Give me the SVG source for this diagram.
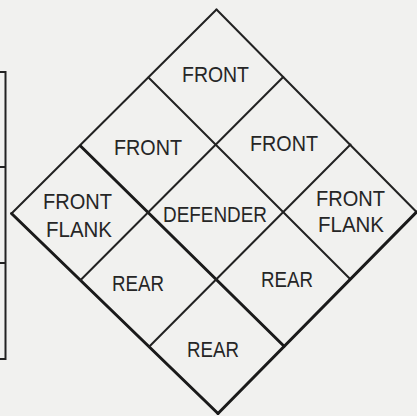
<svg xmlns="http://www.w3.org/2000/svg" width="417" height="416" viewBox="0 0 417 416">
<style>
.bg{fill:#f1f1ef}
.thin{stroke:#222;stroke-width:2;fill:none;stroke-linecap:round}
.thick{stroke:#1a1a1a;stroke-width:3;fill:none;stroke-linecap:round}
.lbl{font-family:"Liberation Sans","DejaVu Sans",Arial,sans-serif;font-size:21.5px;fill:#262626;text-anchor:middle}
</style>
<rect class="bg" x="0" y="0" width="417" height="416"/>
<g id="side-table">
<path class="thin" d="M0 72 H5.5 V359 H0 M0 167 H5.5 M0 263 H5.5"/>
</g>
<g id="connectors">
<line class="thin" x1="216.5" y1="9.5" x2="11.5" y2="213.5"/>
<line class="thin" x1="216.5" y1="9.5" x2="416.5" y2="212"/>
<line class="thin" x1="148.5" y1="77.5" x2="350.4" y2="279.2"/>
<line class="thick" x1="80.5" y1="146" x2="284.1" y2="346.3"/>
<line class="thick" x1="11.5" y1="213.5" x2="218" y2="413.5"/>
<line class="thin" x1="283.2" y1="77" x2="80.4" y2="280.2"/>
<line class="thin" x1="350.5" y1="144.5" x2="149.1" y2="346.8"/>
<line class="thick" x1="416.5" y1="212" x2="218" y2="413.5"/>
</g>
<g id="front-top"><text class="lbl" x="215.5" y="82" textLength="67" lengthAdjust="spacingAndGlyphs">FRONT</text></g>
<g id="front-left"><text class="lbl" x="148" y="154.5" textLength="68" lengthAdjust="spacingAndGlyphs">FRONT</text></g>
<g id="front-right"><text class="lbl" x="284" y="151" textLength="68" lengthAdjust="spacingAndGlyphs">FRONT</text></g>
<g id="front-flank-left"><text class="lbl" x="77.5" y="208.5" textLength="69" lengthAdjust="spacingAndGlyphs">FRONT</text><text class="lbl" x="79" y="237" textLength="66" lengthAdjust="spacingAndGlyphs">FLANK</text></g>
<g id="defender"><text class="lbl" x="215" y="222" textLength="104" lengthAdjust="spacingAndGlyphs">DEFENDER</text></g>
<g id="front-flank-right"><text class="lbl" x="350.5" y="205.5" textLength="69" lengthAdjust="spacingAndGlyphs">FRONT</text><text class="lbl" x="351" y="232" textLength="66" lengthAdjust="spacingAndGlyphs">FLANK</text></g>
<g id="rear-left"><text class="lbl" x="138" y="290.5" textLength="52" lengthAdjust="spacingAndGlyphs">REAR</text></g>
<g id="rear-right"><text class="lbl" x="287" y="287" textLength="52" lengthAdjust="spacingAndGlyphs">REAR</text></g>
<g id="rear-bottom"><text class="lbl" x="213" y="357" textLength="52" lengthAdjust="spacingAndGlyphs">REAR</text></g>
</svg>
